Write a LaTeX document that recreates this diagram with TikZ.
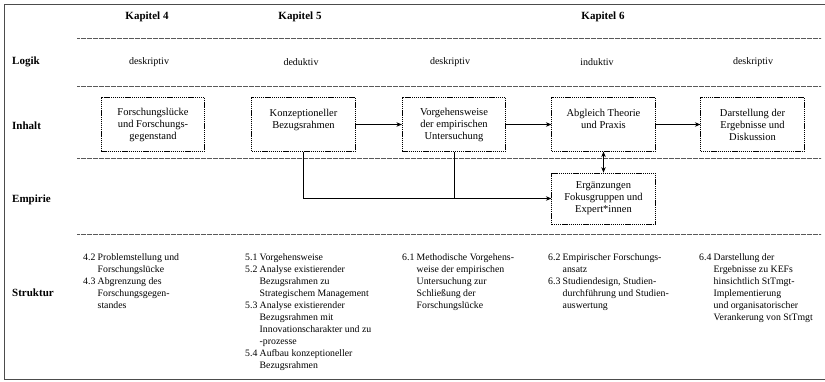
\documentclass[tikz,border=0pt]{standalone}
\usepackage{fontspec}
\setmainfont{Liberation Serif}
\usetikzlibrary{arrows.meta}
\newcommand{\nr}[2]{\makebox[14.5pt][l]{#1}#2}
\newcommand{\ct}[1]{\hspace*{14.5pt}#1}
\begin{document}
\begin{tikzpicture}[x=1pt,y=-1pt,
  rowlabel/.style={anchor=west,font=\fontsize{11}{13}\selectfont\bfseries,inner sep=0},
  chapter/.style={font=\fontsize{11}{13}\selectfont\bfseries,inner sep=0},
  logic/.style={font=\fontsize{10}{12}\selectfont,inner sep=0},
  sep/.style={black!65,line width=0.6pt,dash pattern=on 0.6pt off 0.6pt},
  contentbox/.style={draw,line width=0.7pt,dash pattern=on 1.3pt off 0.8pt,
    minimum width=103.5pt,minimum height=53.5pt,align=center,inner sep=2pt,
    font=\fontsize{10.5}{12}\selectfont},
  flow/.style={line width=0.8pt,-{Stealth[length=5.5pt,width=4.5pt]}},
  struct/.style={anchor=north west,align=left,inner sep=0,
    font=\fontsize{9.8}{12}\selectfont}]
\useasboundingbox (0,0) rectangle (825,381);
% outer frame
\draw[black!70,line width=1.3pt] (830,4.5) -- (4.5,4.5) -- (4.5,379.5) -- (830,379.5);

% chapter headings
\node[chapter] (k4) at (147,17) {Kapitel 4};
\node[chapter] (k5) at (300,17) {Kapitel 5};
\node[chapter] (k6) at (603,17) {Kapitel 6};

% row separators
\draw[sep] (77,38) -- (821,38);
\draw[sep] (77,86) -- (821,86);
\draw[sep] (77,158.5) -- (821,158.5);
\draw[sep] (77,234) -- (821,234);

% row labels
\node[rowlabel] (rLogik) at (12,62) {Logik};
\node[rowlabel] (rInhalt) at (12,126) {Inhalt};
\node[rowlabel] (rEmpirie) at (12,200) {Empirie};
\node[rowlabel] (rStruktur) at (12,293) {Struktur};

% reasoning per column
\node[logic] (l1) at (149,62) {deskriptiv};
\node[logic] (l2) at (301,62) {deduktiv};
\node[logic] (l3) at (450,62) {deskriptiv};
\node[logic] (l4) at (597,62) {induktiv};
\node[logic] (l5) at (753,62) {deskriptiv};

% content boxes
\node[contentbox] (b1) at (153,124.5) {Forschungslücke\\und Forschungs-\\gegenstand};
\node[contentbox] (b2) at (303.5,124.5) {Konzeptioneller\\Bezugsrahmen\\~};
\node[contentbox] (b3) at (454,124.5) {Vorgehensweise\\der empirischen\\Untersuchung};
\node[contentbox] (b4) at (603.5,124.5) {Abgleich Theorie\\und Praxis\\~};
\node[contentbox] (b5) at (752.5,124.5) {Darstellung der\\Ergebnisse und\\Diskussion};
\node[contentbox,minimum height=51pt] (b6) at (603.5,198.5) {Ergänzungen\\Fokusgruppen und\\Expert*innen};

% connectors
\draw[flow] (b2) -- (b3);
\draw[flow] (b3) -- (b4);
\draw[flow] (b4) -- (b5);
\draw[line width=0.8pt,{Stealth[length=5.5pt,width=4.5pt]}-{Stealth[length=5.5pt,width=4.5pt]}] (b4) -- (b6);
\draw[flow] (b2.south) |- (b6.west);
\draw[line width=0.8pt] (b3.south) -- (b3.south |- b6.west);

% chapter structure
\node[struct] (s1) at (83,253) {\nr{4.2}{Problemstellung und}\\\ct{Forschungslücke}\\
  \nr{4.3}{Abgrenzung des}\\\ct{Forschungsgegen-}\\\ct{standes}};
\node[struct] (s2) at (245,253) {\nr{5.1}{Vorgehensweise}\\\nr{5.2}{Analyse existierender}\\
  \ct{Bezugsrahmen zu}\\\ct{Strategischem Management}\\\nr{5.3}{Analyse existierender}\\
  \ct{Bezugsrahmen mit}\\\ct{Innovationscharakter und zu}\\\ct{-prozesse}\\
  \nr{5.4}{Aufbau konzeptioneller}\\\ct{Bezugsrahmen}};
\node[struct] (s3) at (402,253) {\nr{6.1}{Methodische Vorgehens-}\\\ct{weise der empirischen}\\
  \ct{Untersuchung zur}\\\ct{Schließung der}\\\ct{Forschungslücke}};
\node[struct] (s4) at (548,253) {\nr{6.2}{Empirischer Forschungs-}\\\ct{ansatz}\\
  \nr{6.3}{Studiendesign, Studien-}\\\ct{durchführung und Studien-}\\\ct{auswertung}};
\node[struct] (s5) at (699,253) {\nr{6.4}{Darstellung der}\\\ct{Ergebnisse zu KEFs}\\
  \ct{hinsichtlich StTmgt-}\\\ct{Implementierung}\\\ct{und organisatorischer}\\
  \ct{Verankerung von StTmgt}};
\end{tikzpicture}
\end{document}
